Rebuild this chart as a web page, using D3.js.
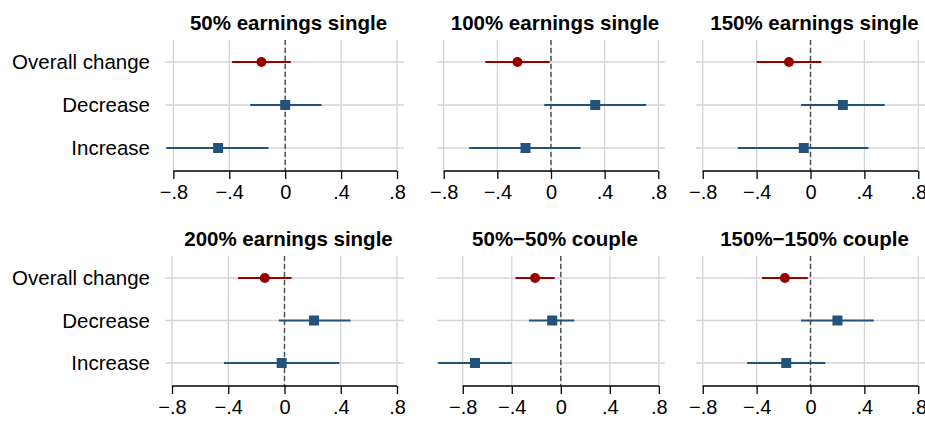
<!DOCTYPE html>
<html>
<head>
<meta charset="utf-8">
<script src="https://cdn.jsdelivr.net/npm/d3@7"></script>
<style>
body { margin: 0; background: white; }
text { font-family: "Liberation Sans", Arial, sans-serif; }
</style>
</head>
<body>
<div id="chart"></div>
<script>
var titles = ["50% earnings single", "100% earnings single", "150% earnings single",
              "200% earnings single", "50%\u221250% couple", "150%\u2212150% couple"];
var categories = ["Overall change", "Decrease", "Increase"];
var ticks = [-0.8, -0.4, 0, 0.4, 0.8];

// estimate, lower CI, upper CI per panel, ordered as categories
var est = [[-0.17, 0.00, -0.48], [-0.25, 0.33, -0.19], [-0.16, 0.24, -0.05],
           [-0.14, 0.21, -0.02], [-0.21, -0.07, -0.70], [-0.19, 0.20, -0.18]];
var lo  = [[-0.38, -0.25, -0.85], [-0.49, -0.05, -0.61], [-0.40, -0.07, -0.54],
           [-0.33, -0.04, -0.43], [-0.37, -0.26, -1.00], [-0.36, -0.07, -0.47]];
var hi  = [[0.04, 0.26, -0.12], [-0.01, 0.71, 0.22], [0.08, 0.55, 0.43],
           [0.05, 0.47, 0.39], [-0.05, 0.11, -0.40], [-0.02, 0.47, 0.11]];

var w = 925, h = 422;
var red = "#990000", blue = "#24527a";
var colX = [[165, 404], [437, 665], [696, 925]];
var rowY = [[40, 171], [256, 386]];

var svg = d3.select("#chart").append("svg").attr("width", w).attr("height", h);

titles.forEach(function(t, p) {
    var c = p % 3, r = Math.floor(p / 3);
    var x0 = colX[c][0], x1 = colX[c][1];
    var top = rowY[r][0], bot = rowY[r][1];
    var g = svg.append("g");

    var minV = d3.min(lo[p]) < -0.8 ? d3.min(lo[p]) - 0.01 : -0.85;
    var maxV = Math.max(0.8, d3.max(hi[p])) + 0.05;
    var x = d3.scaleLinear().domain([minV, maxV]).range([x0, x1]);
    var y = d3.scalePoint().domain(categories).range([top + 22, bot - 23]);

    g.append("text").attr("x", (x0 + x1) / 2 + 4).attr("y", top - 10)
        .attr("text-anchor", "middle").style("font-weight", "bold").style("font-size", "20.5px")
        .text(t);

    // grid
    g.selectAll(".vg").data(ticks).enter().append("line")
        .attr("x1", d => x(d)).attr("x2", d => x(d)).attr("y1", top).attr("y2", bot)
        .style("stroke", "#d4d4d4").style("stroke-width", 1.3);
    g.selectAll(".hg").data(categories).enter().append("line")
        .attr("x1", x0).attr("x2", x1).attr("y1", d => y(d)).attr("y2", d => y(d))
        .style("stroke", "#d4d4d4").style("stroke-width", 1.3);

    // zero reference
    g.append("line").attr("x1", x(0)).attr("x2", x(0)).attr("y1", top).attr("y2", bot)
        .style("stroke", "#555").style("stroke-width", 1.5).style("stroke-dasharray", "5,3");

    // x axis
    var axis = d3.axisBottom(x).tickValues(ticks).tickSize(8).tickPadding(6)
        .tickFormat(d => d === 0 ? "0" : d3.format(".1f")(d).replace("0.", ".").replace("-", "\u2212"));
    var ax = g.append("g").attr("transform", "translate(0," + bot + ")").call(axis);
    ax.select(".domain").attr("d", "M" + x(-0.8) + ",0H" + x(0.8)).style("stroke-width", 1.3);
    ax.selectAll(".tick line").style("stroke-width", 1.3);
    ax.selectAll("text").style("font-size", "20px").style("fill", "#000");

    if (c === 0) {
        g.selectAll(".yl").data(categories).enter().append("text")
            .attr("x", 150).attr("y", d => y(d) + 7).attr("text-anchor", "end")
            .style("font-size", "20.5px").text(d => d);
    }

    categories.forEach(function(cat, i) {
        var col = i === 0 ? red : blue;
        g.append("line").attr("x1", x(lo[p][i])).attr("x2", x(hi[p][i]))
            .attr("y1", y(cat)).attr("y2", y(cat))
            .style("stroke", col).style("stroke-width", 2.2);
        if (i === 0) {
            g.append("circle").attr("cx", x(est[p][i])).attr("cy", y(cat)).attr("r", 5).style("fill", col);
        } else {
            g.append("rect").attr("x", x(est[p][i]) - 5).attr("y", y(cat) - 5)
                .attr("width", 10).attr("height", 10).style("fill", col);
        }
    });
});
</script>
</body>
</html>
